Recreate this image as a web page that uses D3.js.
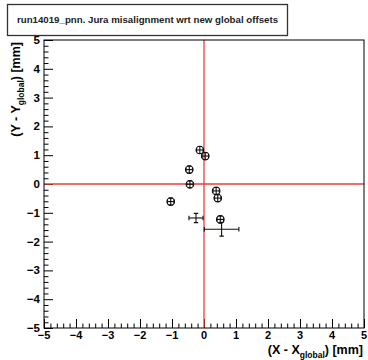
<!DOCTYPE html>
<html>
<head>
<meta charset="utf-8">
<script src="https://cdn.jsdelivr.net/npm/d3@7"></script>
<style>
  html, body { margin: 0; padding: 0; background: #fff; }
  svg { display: block; }
  text { font-family: "Liberation Sans", Arial, sans-serif; }
</style>
</head>
<body>
<svg id="chart" width="368" height="360"></svg>
<script>
// Jura misalignment per module: offsets relative to the global fit (mm)
const xValues  = [-0.13, 0.04, -0.46, -0.44, 0.38, 0.43, -1.04, -0.25, 0.51, 0.55];
const yValues  = [1.18, 0.97, 0.50, -0.01, -0.24, -0.49, -0.61, -1.18, -1.23, -1.57];
const xErrors  = [0.10, 0.10, 0.10, 0.10, 0.10, 0.10, 0.10, 0.22, 0.10, 0.54];
const yErrors  = [0.12, 0.12, 0.12, 0.12, 0.12, 0.12, 0.12, 0.16, 0.12, 0.24];
const hasMarker = [true, true, true, true, true, true, true, false, true, false];
const xTicks = [-5, -4, -3, -2, -1, 0, 1, 2, 3, 4, 5];
const yTicks = [-5, -4, -3, -2, -1, 0, 1, 2, 3, 4, 5];
const titleText = "run14019_pnn. Jura misalignment wrt new global offsets";

const points = xValues.map((x, i) => ({
  x, y: yValues[i], ex: xErrors[i], ey: yErrors[i], marker: hasMarker[i]
}));

const svg = d3.select("#chart");
const frame = { left: 44, right: 364, top: 40, bottom: 328 };

const x = d3.scaleLinear().domain([-5, 5]).range([frame.left, frame.right]);
const y = d3.scaleLinear().domain([-5, 5]).range([frame.bottom, frame.top]);

// Title box
const tb = svg.append("g");
tb.append("rect")
  .attr("x", 7.5).attr("y", 4.5).attr("width", 280).attr("height", 31)
  .attr("fill", "#fff").attr("stroke", "#333").attr("stroke-width", 1.3);
tb.append("text")
  .attr("x", 147.5).attr("y", 23)
  .attr("text-anchor", "middle")
  .attr("font-size", 9.7).attr("font-weight", "bold").attr("fill", "#222")
  .text(titleText);

// Axes with inward ticks (major + minor)
const minorX = d3.range(-5, 5.0001, 0.2).filter(v => Math.abs(v - Math.round(v)) > 1e-6);
const minorY = minorX.slice();

const xAxis = d3.axisTop(x).tickValues(xTicks).tickSize(9).tickFormat("");
const xMinor = d3.axisTop(x).tickValues(minorX).tickSize(4.5).tickFormat("");
const yAxis = d3.axisRight(y).tickValues(yTicks).tickSize(9).tickFormat("");
const yMinor = d3.axisRight(y).tickValues(minorY).tickSize(4.5).tickFormat("");

function styleAxis(g) {
  g.select(".domain").remove();
  g.selectAll("line").attr("stroke", "#000").attr("stroke-width", 1);
}
svg.append("g").attr("transform", `translate(0,${frame.bottom})`).call(xAxis).call(styleAxis);
svg.append("g").attr("transform", `translate(0,${frame.bottom})`).call(xMinor).call(styleAxis);
svg.append("g").attr("transform", `translate(${frame.left},0)`).call(yAxis).call(styleAxis);
svg.append("g").attr("transform", `translate(${frame.left},0)`).call(yMinor).call(styleAxis);

// Tick labels
const fmt = v => (v < 0 ? "\u2212" + Math.abs(v) : String(v));
svg.append("g").selectAll("text").data(xTicks).join("text")
  .attr("x", d => x(d)).attr("y", frame.bottom + 10.5)
  .attr("text-anchor", "middle")
  .attr("font-size", 11).attr("font-weight", "bold")
  .text(fmt);
svg.append("g").selectAll("text").data(yTicks).join("text")
  .attr("x", frame.left - 4).attr("y", d => y(d) + 4)
  .attr("text-anchor", "end")
  .attr("font-size", 11.5).attr("font-weight", "bold")
  .text(fmt);

// Reference lines at zero offset
svg.append("line")
  .attr("x1", x(0)).attr("x2", x(0)).attr("y1", frame.top).attr("y2", frame.bottom)
  .attr("stroke", "#ee3b3b").attr("stroke-width", 1.3);
svg.append("line")
  .attr("x1", frame.left).attr("x2", frame.right).attr("y1", y(0)).attr("y2", y(0))
  .attr("stroke", "#ee3b3b").attr("stroke-width", 1.3);

// Frame
svg.append("rect")
  .attr("x", frame.left).attr("y", frame.top)
  .attr("width", frame.right - frame.left).attr("height", frame.bottom - frame.top)
  .attr("fill", "none").attr("stroke", "#000").attr("stroke-width", 1);

// Data: error bars with end caps, open circle markers
const pg = svg.append("g");
const cap = 2.2;
const pts = pg.selectAll("g").data(points).join("g");
pts.append("line")
  .attr("x1", d => x(d.x - d.ex)).attr("x2", d => x(d.x + d.ex))
  .attr("y1", d => y(d.y)).attr("y2", d => y(d.y))
  .attr("stroke", "#111").attr("stroke-width", 1.1);
pts.append("line")
  .attr("x1", d => x(d.x)).attr("x2", d => x(d.x))
  .attr("y1", d => y(d.y - d.ey)).attr("y2", d => y(d.y + d.ey))
  .attr("stroke", "#111").attr("stroke-width", 1.1);
pts.append("path")
  .attr("d", d => {
    const x0 = x(d.x - d.ex), x1 = x(d.x + d.ex), yc = y(d.y);
    const y0 = y(d.y - d.ey), y1 = y(d.y + d.ey), xc = x(d.x);
    return `M${x0},${yc - cap}V${yc + cap}M${x1},${yc - cap}V${yc + cap}` +
           `M${xc - cap},${y0}H${xc + cap}M${xc - cap},${y1}H${xc + cap}`;
  })
  .attr("stroke", "#111").attr("stroke-width", 1.1).attr("fill", "none");
pts.filter(d => d.marker).append("circle")
  .attr("cx", d => x(d.x)).attr("cy", d => y(d.y)).attr("r", 3.8)
  .attr("fill", "none").attr("stroke", "#111").attr("stroke-width", 1.1);

// Axis titles
const xt = svg.append("text")
  .attr("x", frame.right - 1).attr("y", 354)
  .attr("text-anchor", "end")
  .attr("font-size", 12.5).attr("font-weight", "bold");
xt.append("tspan").text("(X - X");
xt.append("tspan").attr("font-size", 8.5).attr("dy", 4).text("global");
xt.append("tspan").attr("dy", -4).text(") [mm]");

const yt = svg.append("text")
  .attr("transform", `translate(20,${frame.top + 2}) rotate(-90)`)
  .attr("text-anchor", "end")
  .attr("font-size", 12.5).attr("font-weight", "bold");
yt.append("tspan").text("(Y - Y");
yt.append("tspan").attr("font-size", 8.5).attr("dy", 4).text("global");
yt.append("tspan").attr("dy", -4).text(") [mm]");
</script>
</body>
</html>
